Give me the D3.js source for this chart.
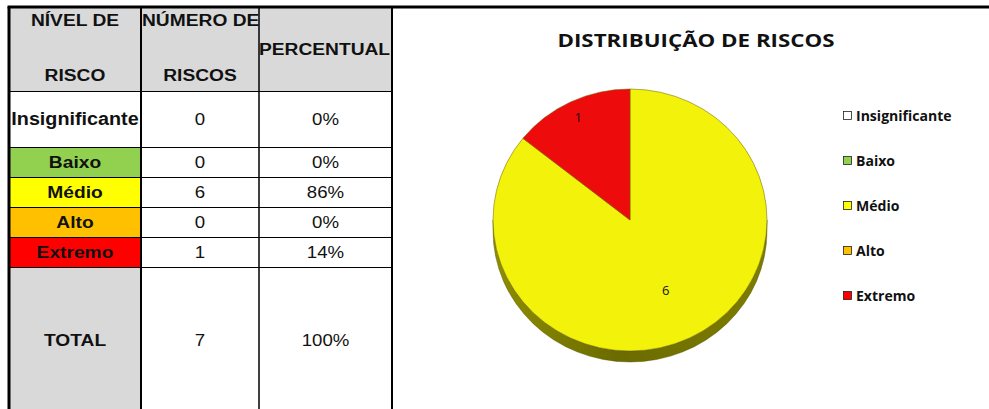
<!DOCTYPE html>
<html>
<head>
<meta charset="utf-8">
<script src="https://cdn.jsdelivr.net/npm/d3@7"></script>
<style>
  body { margin: 0; background: #fff; }
  svg { display: block; }
</style>
</head>
<body>
<svg id="chart"></svg>
<script>
// data
const LEVELS = ["Insignificante", "Baixo", "Médio", "Alto", "Extremo"];
const COUNTS = [0, 0, 6, 0, 1];
const TOTAL_LABEL = "TOTAL";
const CHART_TITLE = "DISTRIBUIÇÃO DE RISCOS";

// styling
const LEVEL_COLOURS = ["#ffffff", "#92d050", "#ffff00", "#ffc000", "#ff0000"];
const SLICE_COLOURS = ["#ffffff", "#8cc84a", "#f2f20a", "#f0b400", "#ee0b0b"];
const WIDTH = 989, HEIGHT = 409;
const TABLE_FONT = "'Liberation Sans', Arial, sans-serif";
const CHART_FONT = "'Open Sans', 'Noto Sans', sans-serif";
const TABLE_STRETCH = 1.13;

const COL_X = [9, 141, 259, 392];
const ROW_Y = [91, 147, 177, 207, 237, 267, HEIGHT + 2];
const HEADER_TOP = 7;

const svg = d3.select("#chart")
    .attr("width", WIDTH)
    .attr("height", HEIGHT);

const total = d3.sum(COUNTS);
const percent = v => Math.round(v / total * 100) + "%";

// text that is a bit wider than the installed font, like the reference
function wideText(container, x, y, t, opts) {
    return container.append("text")
        .attr("transform", `translate(${x},${y}) scale(${opts.sx || TABLE_STRETCH},1)`)
        .attr("dy", opts.dy || null)
        .attr("text-anchor", opts.anchor || "middle")
        .attr("font-family", opts.family || TABLE_FONT)
        .attr("font-weight", opts.bold ? "bold" : null)
        .attr("font-size", opts.size)
        .attr("fill", "#111")
        .text(t);
}

function drawTable(container) {
    let colMid = i => (COL_X[i] + COL_X[i + 1]) / 2;

    // header background
    container.append("rect")
        .attr("x", COL_X[0]).attr("y", HEADER_TOP)
        .attr("width", COL_X[3] - COL_X[0]).attr("height", ROW_Y[0] - HEADER_TOP)
        .attr("fill", "#d9d9d9");

    // level cells
    LEVELS.forEach((lvl, i) => {
        container.append("rect")
            .attr("x", COL_X[0]).attr("y", ROW_Y[i])
            .attr("width", COL_X[1] - COL_X[0]).attr("height", ROW_Y[i + 1] - ROW_Y[i])
            .attr("fill", LEVEL_COLOURS[i]);
    });

    // total cell
    container.append("rect")
        .attr("x", COL_X[0]).attr("y", ROW_Y[5])
        .attr("width", COL_X[1] - COL_X[0]).attr("height", HEIGHT - ROW_Y[5])
        .attr("fill", "#d9d9d9");

    // horizontal rules
    ROW_Y.slice(0, 6).forEach(y =>
        container.append("line")
            .attr("x1", COL_X[0]).attr("x2", COL_X[3])
            .attr("y1", y + 0.5).attr("y2", y + 0.5)
            .attr("stroke", "#000").attr("stroke-width", 1)
    );

    // vertical rules
    [[COL_X[0], 3], [COL_X[1], 2], [COL_X[2], 1.5], [COL_X[3], 2]].forEach(([x, w]) =>
        container.append("line")
            .attr("x1", x).attr("x2", x)
            .attr("y1", HEADER_TOP).attr("y2", HEIGHT)
            .attr("stroke", "#000").attr("stroke-width", w)
    );

    // top border across table and chart
    container.append("line")
        .attr("x1", COL_X[0] - 1.5).attr("x2", WIDTH)
        .attr("y1", HEADER_TOP).attr("y2", HEADER_TOP)
        .attr("stroke", "#000").attr("stroke-width", 3);

    // header text
    let head = { size: 17, bold: true };
    wideText(container, colMid(0), 26, "NÍVEL DE", head);
    wideText(container, colMid(0), 81, "RISCO", head);
    wideText(container, COL_X[1] + 1, 26, "NÚMERO DE", { ...head, anchor: "start" });
    wideText(container, colMid(1), 81, "RISCOS", head);
    wideText(container, colMid(2) - 1, 55, "PERCENTUAL", head);

    // body rows
    LEVELS.forEach((lvl, i) => {
        let yMid = (ROW_Y[i] + ROW_Y[i + 1]) / 2;
        wideText(container, colMid(0), yMid, lvl,
            { size: i === 0 ? 17.5 : 17, bold: true, dy: "0.36em" });
        wideText(container, colMid(1), yMid, COUNTS[i], { size: 16.5, dy: "0.36em" });
        wideText(container, colMid(2), yMid, percent(COUNTS[i]), { size: 16.5, dy: "0.36em" });
    });

    // total row
    let yTot = 340;
    wideText(container, colMid(0), yTot, TOTAL_LABEL, { size: 17, bold: true, dy: "0.36em" });
    wideText(container, colMid(1), yTot, total, { size: 16.5, dy: "0.36em" });
    wideText(container, colMid(2), yTot, percent(total), { size: 16.5, dy: "0.36em" });
}

function drawPie(container) {
    let cx = 630, cy = 220, rx = 137, ry = 131, depth = 11;
    let g = container.append("g")
        .attr("transform", `translate(${cx},${cy}) scale(${rx / ry},1)`);

    let pie = d3.pie().sort(null).value(d => d.value);
    let arcs = pie(LEVELS.map((name, i) => ({ name, value: COUNTS[i], i })))
        .filter(d => d.value > 0);
    let arc = d3.arc().innerRadius(0).outerRadius(ry);
    // small slices get their label near the rim, big ones nearer the middle
    let labelPos = d => {
        let share = (d.endAngle - d.startAngle) / (2 * Math.PI);
        let r = share < 0.25 ? ry * 0.87 : ry * 0.6;
        return d3.arc().innerRadius(r).outerRadius(r).centroid(d);
    };

    // side wall (lower half)
    let side = d3.path();
    side.moveTo(-ry, 0);
    side.arc(0, 0, ry, Math.PI, 0, true);
    side.lineTo(ry, depth);
    side.arc(0, depth, ry, 0, Math.PI, false);
    side.closePath();

    let grad = container.append("defs").append("linearGradient")
        .attr("id", "sideGrad").attr("x1", 0).attr("x2", 1).attr("y1", 0).attr("y2", 0);
    grad.append("stop").attr("offset", "0%").attr("stop-color", "#8f8f00");
    grad.append("stop").attr("offset", "45%").attr("stop-color", "#6b6b00");
    grad.append("stop").attr("offset", "100%").attr("stop-color", "#7d7d00");

    g.append("path")
        .attr("d", side.toString())
        .attr("fill", "url(#sideGrad)")
        .attr("stroke", "#555500")
        .attr("stroke-width", 0.4);

    g.selectAll("path.slice")
        .data(arcs)
        .join("path")
        .attr("class", "slice")
        .attr("d", arc)
        .attr("fill", d => SLICE_COLOURS[d.data.i])
        .attr("stroke", "#6a5a00")
        .attr("stroke-width", 0.5);

    g.selectAll("text.val")
        .data(arcs)
        .join("text")
        .attr("class", "val")
        .attr("transform", d => {
            let [x, y] = labelPos(d);
            return `translate(${x},${y}) scale(${ry / rx},1)`;
        })
        .attr("text-anchor", "middle")
        .attr("dy", "0.35em")
        .attr("font-family", CHART_FONT)
        .attr("font-size", 13)
        .attr("fill", "#111")
        .text(d => d.value);
}

function drawLegend(container) {
    let legendY = d3.scalePoint().domain(LEVELS).range([116, 296]);
    LEVELS.forEach((lvl, i) => {
        let y = legendY(lvl);
        container.append("rect")
            .attr("x", 843.5).attr("y", y - 4.5)
            .attr("width", 8).attr("height", 8)
            .attr("fill", LEVEL_COLOURS[i])
            .attr("stroke", "#222").attr("stroke-width", 0.8);
        wideText(container, 856, y, lvl, {
            family: CHART_FONT, size: 13.5, bold: true, dy: "0.35em",
            anchor: "start", sx: 1.04
        });
    });
}

function drawTitle(container) {
    wideText(container, 696, 41, CHART_TITLE, {
        family: CHART_FONT, size: 18, bold: true, dy: "0.35em", sx: 1.24
    });
}

drawTable(svg);
drawPie(svg);
drawLegend(svg);
drawTitle(svg);
</script>
</body>
</html>
